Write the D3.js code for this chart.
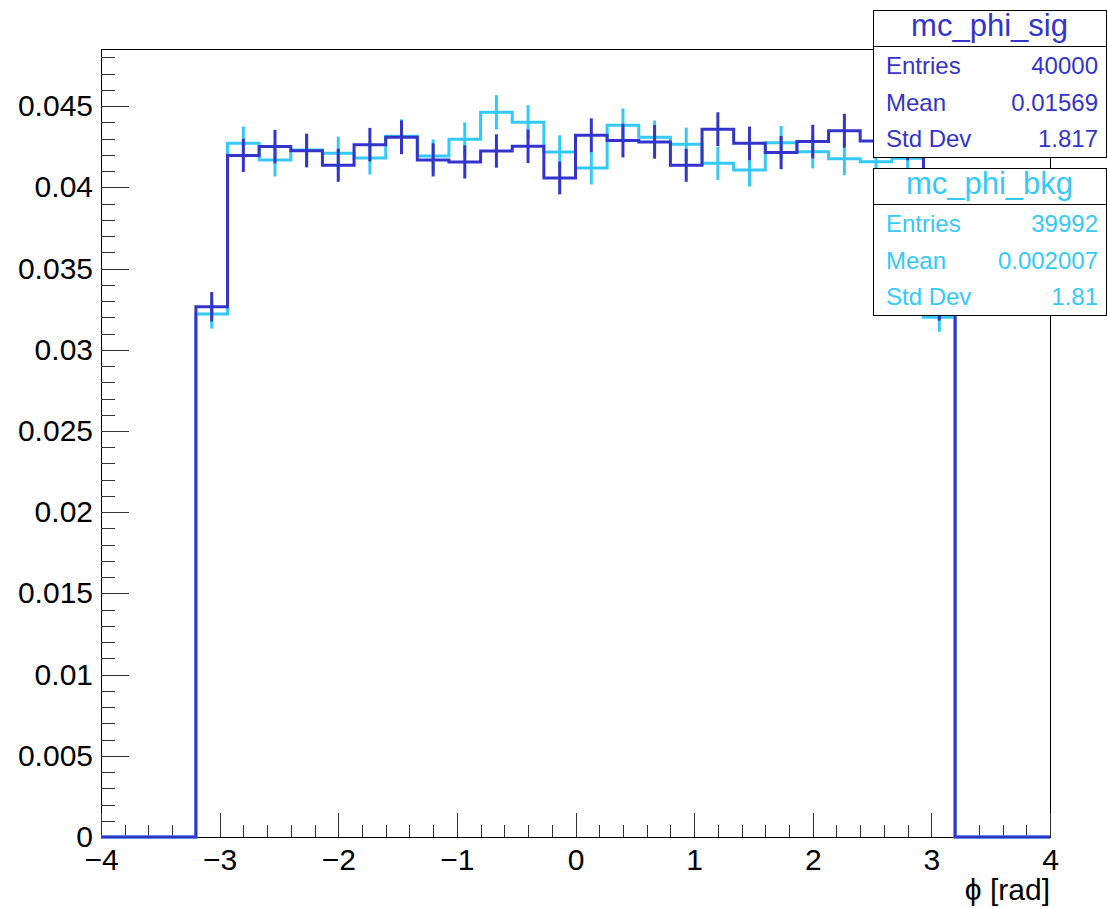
<!DOCTYPE html>
<html>
<head>
<meta charset="utf-8">
<script src="https://cdn.jsdelivr.net/npm/d3@7"></script>
<style>
  body { margin: 0; background: #fff; }
  text { font-family: "Liberation Sans", Arial, Helvetica, sans-serif; }
</style>
</head>
<body>
<div id="chart"></div>
<script>
// histogram binning
var phiMin = -3.2, phiMax = 3.2, nBins = 24;

// normalised bin contents
var sigValues = [0.03265, 0.04197, 0.04251, 0.04226, 0.04136, 0.04263, 0.04308, 0.04169,
                 0.04156, 0.04224, 0.04253, 0.04058, 0.04321, 0.04288, 0.04280, 0.04136,
                 0.04358, 0.04271, 0.04214, 0.04282, 0.04349, 0.04286, 0.04270, 0.03270];
var bkgValues = [0.03220, 0.04271, 0.04169, 0.04230, 0.04210, 0.04181, 0.04315, 0.04193,
                 0.04296, 0.04462, 0.04401, 0.04218, 0.04119, 0.04382, 0.04308, 0.04265,
                 0.04148, 0.04107, 0.04275, 0.04220, 0.04177, 0.04158, 0.04180, 0.03200];

// stats boxes
var sigStats = [["Entries", "40000"], ["Mean", "0.01569"], ["Std Dev", "1.817"]];
var bkgStats = [["Entries", "39992"], ["Mean", "0.002007"], ["Std Dev", "1.81"]];
var sigEntries = 40000, bkgEntries = 39992;

var xTicks = [-4, -3, -2, -1, 0, 1, 2, 3, 4];
var yTicks = [0, 0.005, 0.01, 0.015, 0.02, 0.025, 0.03, 0.035, 0.04, 0.045];

var width = 1107, height = 909;
var margin = {top: 49, right: 57, bottom: 72, left: 101};
var sigColor = "#3434cc", bkgColor = "#35c9f8";

var svg = d3.select("#chart")
  .append("svg")
  .attr("width", width)
  .attr("height", height);

var xScale = d3.scaleLinear()
  .domain([-4, 4])
  .range([margin.left, width - margin.right]);

var yScale = d3.scaleLinear()
  .domain([0, 0.04852])
  .range([height - margin.bottom, margin.top]);

var binW = (phiMax - phiMin) / nBins;

// Frame
svg.append("rect")
  .attr("x", margin.left + 0.5)
  .attr("y", margin.top + 0.5)
  .attr("width", width - margin.right - margin.left)
  .attr("height", height - margin.bottom - margin.top)
  .attr("fill", "none")
  .attr("stroke", "#000")
  .attr("stroke-width", 1);

// X axis: major + minor ticks pointing inward
var xMinor = d3.range(-4, 4.0001, 0.2).map(d => Math.round(d * 10) / 10);

svg.append("g")
  .attr("transform", `translate(0,${height - margin.bottom})`)
  .attr("class", "x-minor")
  .call(d3.axisBottom(xScale).tickValues(xMinor).tickSize(-12).tickFormat(""))
  .call(g => g.select(".domain").remove());

svg.append("g")
  .attr("transform", `translate(0,${height - margin.bottom})`)
  .attr("class", "x-axis")
  .call(d3.axisBottom(xScale).tickValues(xTicks).tickSize(-24).tickPadding(12).tickFormat(d3.format("d")))
  .call(g => g.select(".domain").remove())
  .selectAll("text")
  .style("font-size", "30px")
  .style("fill", "#000");

// Y axis
var yMinor = d3.range(0, 0.0485, 0.001).map(d => Math.round(d * 1000) / 1000);

svg.append("g")
  .attr("transform", `translate(${margin.left},0)`)
  .attr("class", "y-minor")
  .call(d3.axisLeft(yScale).tickValues(yMinor).tickSize(-14).tickFormat(""))
  .call(g => g.select(".domain").remove());

svg.append("g")
  .attr("transform", `translate(${margin.left},0)`)
  .attr("class", "y-axis")
  .call(d3.axisLeft(yScale).tickValues(yTicks).tickSize(-28).tickPadding(8)
    .tickFormat(d => d === 0 ? "0" : d3.format(".3~f")(d)))
  .call(g => g.select(".domain").remove())
  .selectAll("text")
  .style("font-size", "30px")
  .style("fill", "#000");

svg.selectAll(".tick line")
  .attr("stroke", "#333")
  .attr("shape-rendering", "crispEdges");

// X title
svg.append("text")
  .attr("x", xScale(4))
  .attr("y", 900)
  .attr("text-anchor", "end")
  .style("font-size", "30px")
  .text("ϕ [rad]");

// Histograms
var stepLine = d3.line()
  .x(d => xScale(d[0]))
  .y(d => yScale(d[1]))
  .curve(d3.curveStepAfter);

function histPoints(vals) {
  var pts = [[-4, 0]];
  vals.forEach((v, i) => pts.push([phiMin + i * binW, v]));
  pts.push([phiMax, 0]);
  pts.push([4, 0]);
  return pts;
}

function drawHist(vals, entries, color, cls) {
  var g = svg.append("g").attr("class", cls);

  g.append("path")
    .attr("d", stepLine(histPoints(vals)))
    .attr("fill", "none")
    .attr("stroke", color)
    .attr("stroke-width", 3);

  g.selectAll(".err")
    .data(vals)
    .enter()
    .append("line")
    .attr("class", "err")
    .attr("x1", (d, i) => xScale(phiMin + (i + 0.5) * binW))
    .attr("x2", (d, i) => xScale(phiMin + (i + 0.5) * binW))
    .attr("y1", d => yScale(d + Math.sqrt(d / entries)))
    .attr("y2", d => yScale(d - Math.sqrt(d / entries)))
    .attr("stroke", color)
    .attr("stroke-width", 3);
}

drawHist(bkgValues, bkgEntries, bkgColor, "bkg");
drawHist(sigValues, sigEntries, sigColor, "sig");

// Stats boxes
function statsBox(top, title, rows, color) {
  var left = 873, right = 1106, h = 147, titleH = 36, rowH = 36.7;
  var g = svg.append("g").attr("class", "stats");

  g.append("rect")
    .attr("x", left + 0.5)
    .attr("y", top + 0.5)
    .attr("width", right - left)
    .attr("height", h)
    .attr("fill", "#fff")
    .attr("stroke", "#000");

  g.append("line")
    .attr("x1", left)
    .attr("x2", right)
    .attr("y1", top + titleH + 0.5)
    .attr("y2", top + titleH + 0.5)
    .attr("stroke", "#000");

  g.append("text")
    .attr("x", (left + right) / 2)
    .attr("y", top + 26)
    .attr("text-anchor", "middle")
    .style("font-size", "31px")
    .style("fill", color)
    .text(title);

  rows.forEach((r, i) => {
    g.append("text")
      .attr("x", left + 13)
      .attr("y", top + 64 + i * rowH)
      .style("font-size", "24px")
      .style("fill", color)
      .text(r[0]);
    g.append("text")
      .attr("x", right - 8)
      .attr("y", top + 64 + i * rowH)
      .attr("text-anchor", "end")
      .style("font-size", "24px")
      .style("fill", color)
      .text(r[1]);
  });
}

statsBox(10, "mc_phi_sig", sigStats, sigColor);
statsBox(168, "mc_phi_bkg", bkgStats, bkgColor);
</script>
</body>
</html>
